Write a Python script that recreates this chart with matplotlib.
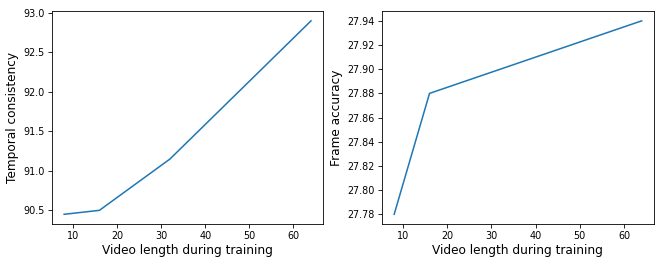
import matplotlib
matplotlib.use("Agg")
import matplotlib.pyplot as plt

# video lengths used during training
lengths = [8, 16, 32, 64]
temporal_consistency = [90.45, 90.50, 91.15, 92.90]
frame_accuracy = [27.78, 27.88, 27.90, 27.94]

fig = plt.figure(figsize=(6.64, 2.66), dpi=100)
ax1 = fig.add_axes([0.078, 0.158, 0.409, 0.80])
ax2 = fig.add_axes([0.575, 0.158, 0.410, 0.80])

ax1.plot(lengths, temporal_consistency, color="#1f77b4", linewidth=1.1)
ax1.set_xlabel("Video length during training", fontsize=8.7, labelpad=2.5)
ax1.set_ylabel("Temporal consistency", fontsize=8.7, labelpad=3)
ax1.set_yticks([90.5, 91.0, 91.5, 92.0, 92.5, 93.0])

ax2.plot(lengths, frame_accuracy, color="#1f77b4", linewidth=1.1)
ax2.set_xlabel("Video length during training", fontsize=8.7, labelpad=2.5)
ax2.set_ylabel("Frame accuracy", fontsize=8.7, labelpad=3)
ax2.set_yticks([27.78, 27.80, 27.82, 27.84, 27.86, 27.88, 27.90, 27.92, 27.94])
ax2.set_yticklabels(["%.2f" % v for v in ax2.get_yticks()])

for ax in (ax1, ax2):
    ax.tick_params(labelsize=6.9, length=2.6, width=0.6, pad=2.3)
    for s in ax.spines.values():
        s.set_linewidth(0.6)

fig.savefig("out.png", dpi=100)
